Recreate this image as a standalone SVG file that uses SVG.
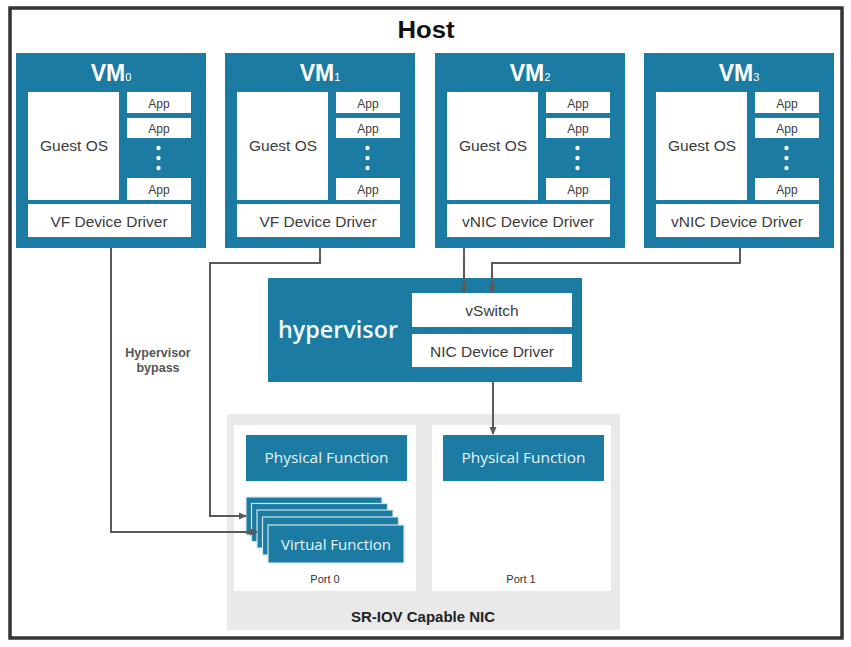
<svg xmlns="http://www.w3.org/2000/svg" width="851" height="647" viewBox="0 0 851 647">
<defs>
<style>
.teal{fill:#1b7ba3}
.wbox{fill:#ffffff}
.t{font-family:"Liberation Sans",Arial,sans-serif;fill:#3c3c3c;text-anchor:middle}
.os{font-size:15.5px}
.app{font-size:12px}
.vm{font-family:"Liberation Sans",Arial,sans-serif;font-weight:bold;font-size:23px;fill:#ffffff;text-anchor:middle}
.sub{font-size:11px;font-weight:normal}
.lt{font-family:"Open Sans","Noto Sans",sans-serif;fill:#e8f4f8;text-anchor:middle;font-size:15px}
.conn{fill:none;stroke:#5a5a5a;stroke-width:2}
.vf{fill:#1b7ba3;stroke:#cfe6ef;stroke-width:1.2}
</style>
<marker id="ah" markerWidth="8" markerHeight="8" refX="7" refY="4" orient="auto" markerUnits="userSpaceOnUse">
<path d="M0,0.5 L8,4 L0,7.5 Z" fill="#5a5a5a"/>
</marker>
<g id="vmtpl">
<rect x="0" y="0" width="190" height="195" class="teal"/>
<rect x="12" y="39" width="91" height="108" class="wbox"/>
<rect x="111" y="39" width="64" height="21" class="wbox"/>
<rect x="111" y="65" width="64" height="20" class="wbox"/>
<circle cx="142.5" cy="95" r="2.2" fill="#ffffff"/>
<circle cx="142.5" cy="105" r="2.2" fill="#ffffff"/>
<circle cx="142.5" cy="115" r="2.2" fill="#ffffff"/>
<rect x="111" y="125" width="64" height="22" class="wbox"/>
<rect x="12" y="151" width="163" height="33" class="wbox"/>
<text x="58" y="98" class="t os">Guest OS</text>
<text x="143" y="55" class="t app">App</text>
<text x="143" y="80" class="t app">App</text>
<text x="143" y="141" class="t app">App</text>
</g>
</defs>
<rect x="0" y="0" width="851" height="647" fill="#ffffff"/>
<g id="host">
<rect x="10" y="8" width="832" height="630" fill="#ffffff" stroke="#333333" stroke-width="3.5"/>
<text x="426" y="38" font-family="Liberation Sans, Arial, sans-serif" font-weight="bold" font-size="23" fill="#111111" text-anchor="middle" textLength="57" lengthAdjust="spacingAndGlyphs">Host</text>
</g>
<g id="vm0" transform="translate(16,53)">
<use href="#vmtpl"/>
<text x="95" y="28" class="vm">VM<tspan class="sub">0</tspan></text>
<text x="93" y="174" class="t os">VF Device Driver</text>
</g>
<g id="vm1" transform="translate(225,53)">
<use href="#vmtpl"/>
<text x="95" y="28" class="vm">VM<tspan class="sub">1</tspan></text>
<text x="93" y="174" class="t os">VF Device Driver</text>
</g>
<g id="vm2" transform="translate(435,53)">
<use href="#vmtpl"/>
<text x="95" y="28" class="vm">VM<tspan class="sub">2</tspan></text>
<text x="93" y="174" class="t os">vNIC Device Driver</text>
</g>
<g id="vm3" transform="translate(644,53)">
<use href="#vmtpl"/>
<text x="95" y="28" class="vm">VM<tspan class="sub">3</tspan></text>
<text x="93" y="174" class="t os">vNIC Device Driver</text>
</g>
<g id="hypervisor">
<rect x="268" y="278" width="314" height="104" class="teal"/>
<text x="338" y="338" font-family="Open Sans, Noto Sans, sans-serif" font-weight="600" font-size="24" fill="#f2f9fb" text-anchor="middle" textLength="120" lengthAdjust="spacingAndGlyphs">hypervisor</text>
<rect x="412" y="293" width="160" height="34" class="wbox"/>
<text x="492" y="316" class="t os">vSwitch</text>
<rect x="412" y="334" width="160" height="33" class="wbox"/>
<text x="492" y="357" class="t os">NIC Device Driver</text>
</g>
<g id="nic">
<rect x="227" y="414" width="393" height="216" fill="#e9e9e9"/>
<text x="423" y="622" font-family="Liberation Sans, Arial, sans-serif" font-weight="bold" font-size="15" fill="#222222" text-anchor="middle">SR-IOV Capable NIC</text>
</g>
<g id="port0">
<rect x="234" y="425" width="182" height="166" class="wbox"/>
<text x="325" y="583" font-family="Liberation Sans, Arial, sans-serif" font-size="11" fill="#333333" text-anchor="middle">Port 0</text>
</g>
<g id="pf0">
<rect x="246" y="435" width="161" height="46" class="teal"/>
<text x="326.5" y="463" class="lt" textLength="124" lengthAdjust="spacingAndGlyphs">Physical Function</text>
</g>
<g id="vf">
<rect x="246" y="497" width="136" height="38" class="vf"/>
<rect x="251.5" y="503.5" width="136" height="38" class="vf"/>
<rect x="257" y="510" width="136" height="38" class="vf"/>
<rect x="262.5" y="517" width="136" height="38" class="vf"/>
<rect x="268" y="525" width="136" height="38" class="vf"/>
<text x="336" y="550" class="lt" textLength="110" lengthAdjust="spacingAndGlyphs">Virtual Function</text>
</g>
<g id="port1">
<rect x="432" y="425" width="179" height="166" class="wbox"/>
<text x="521" y="583" font-family="Liberation Sans, Arial, sans-serif" font-size="11" fill="#333333" text-anchor="middle">Port 1</text>
</g>
<g id="pf1">
<rect x="443" y="435" width="161" height="46" class="teal"/>
<text x="523.5" y="463" class="lt" textLength="124" lengthAdjust="spacingAndGlyphs">Physical Function</text>
</g>
<g id="connectors">
<path class="conn" d="M111,248 V532 H257" marker-end="url(#ah)"/>
<path class="conn" d="M320,248 V263 H210 V516 H246" marker-end="url(#ah)"/>
<path class="conn" d="M464,248 V293" marker-end="url(#ah)"/>
<path class="conn" d="M740,248 V263 H492 V293" marker-end="url(#ah)"/>
<path class="conn" d="M493,382 V434" marker-end="url(#ah)"/>
<text x="158" y="357" font-family="Liberation Sans, Arial, sans-serif" font-weight="bold" font-size="12.5" fill="#555555" text-anchor="middle">Hypervisor</text>
<text x="158" y="372" font-family="Liberation Sans, Arial, sans-serif" font-weight="bold" font-size="12.5" fill="#555555" text-anchor="middle">bypass</text>
</g>
</svg>
